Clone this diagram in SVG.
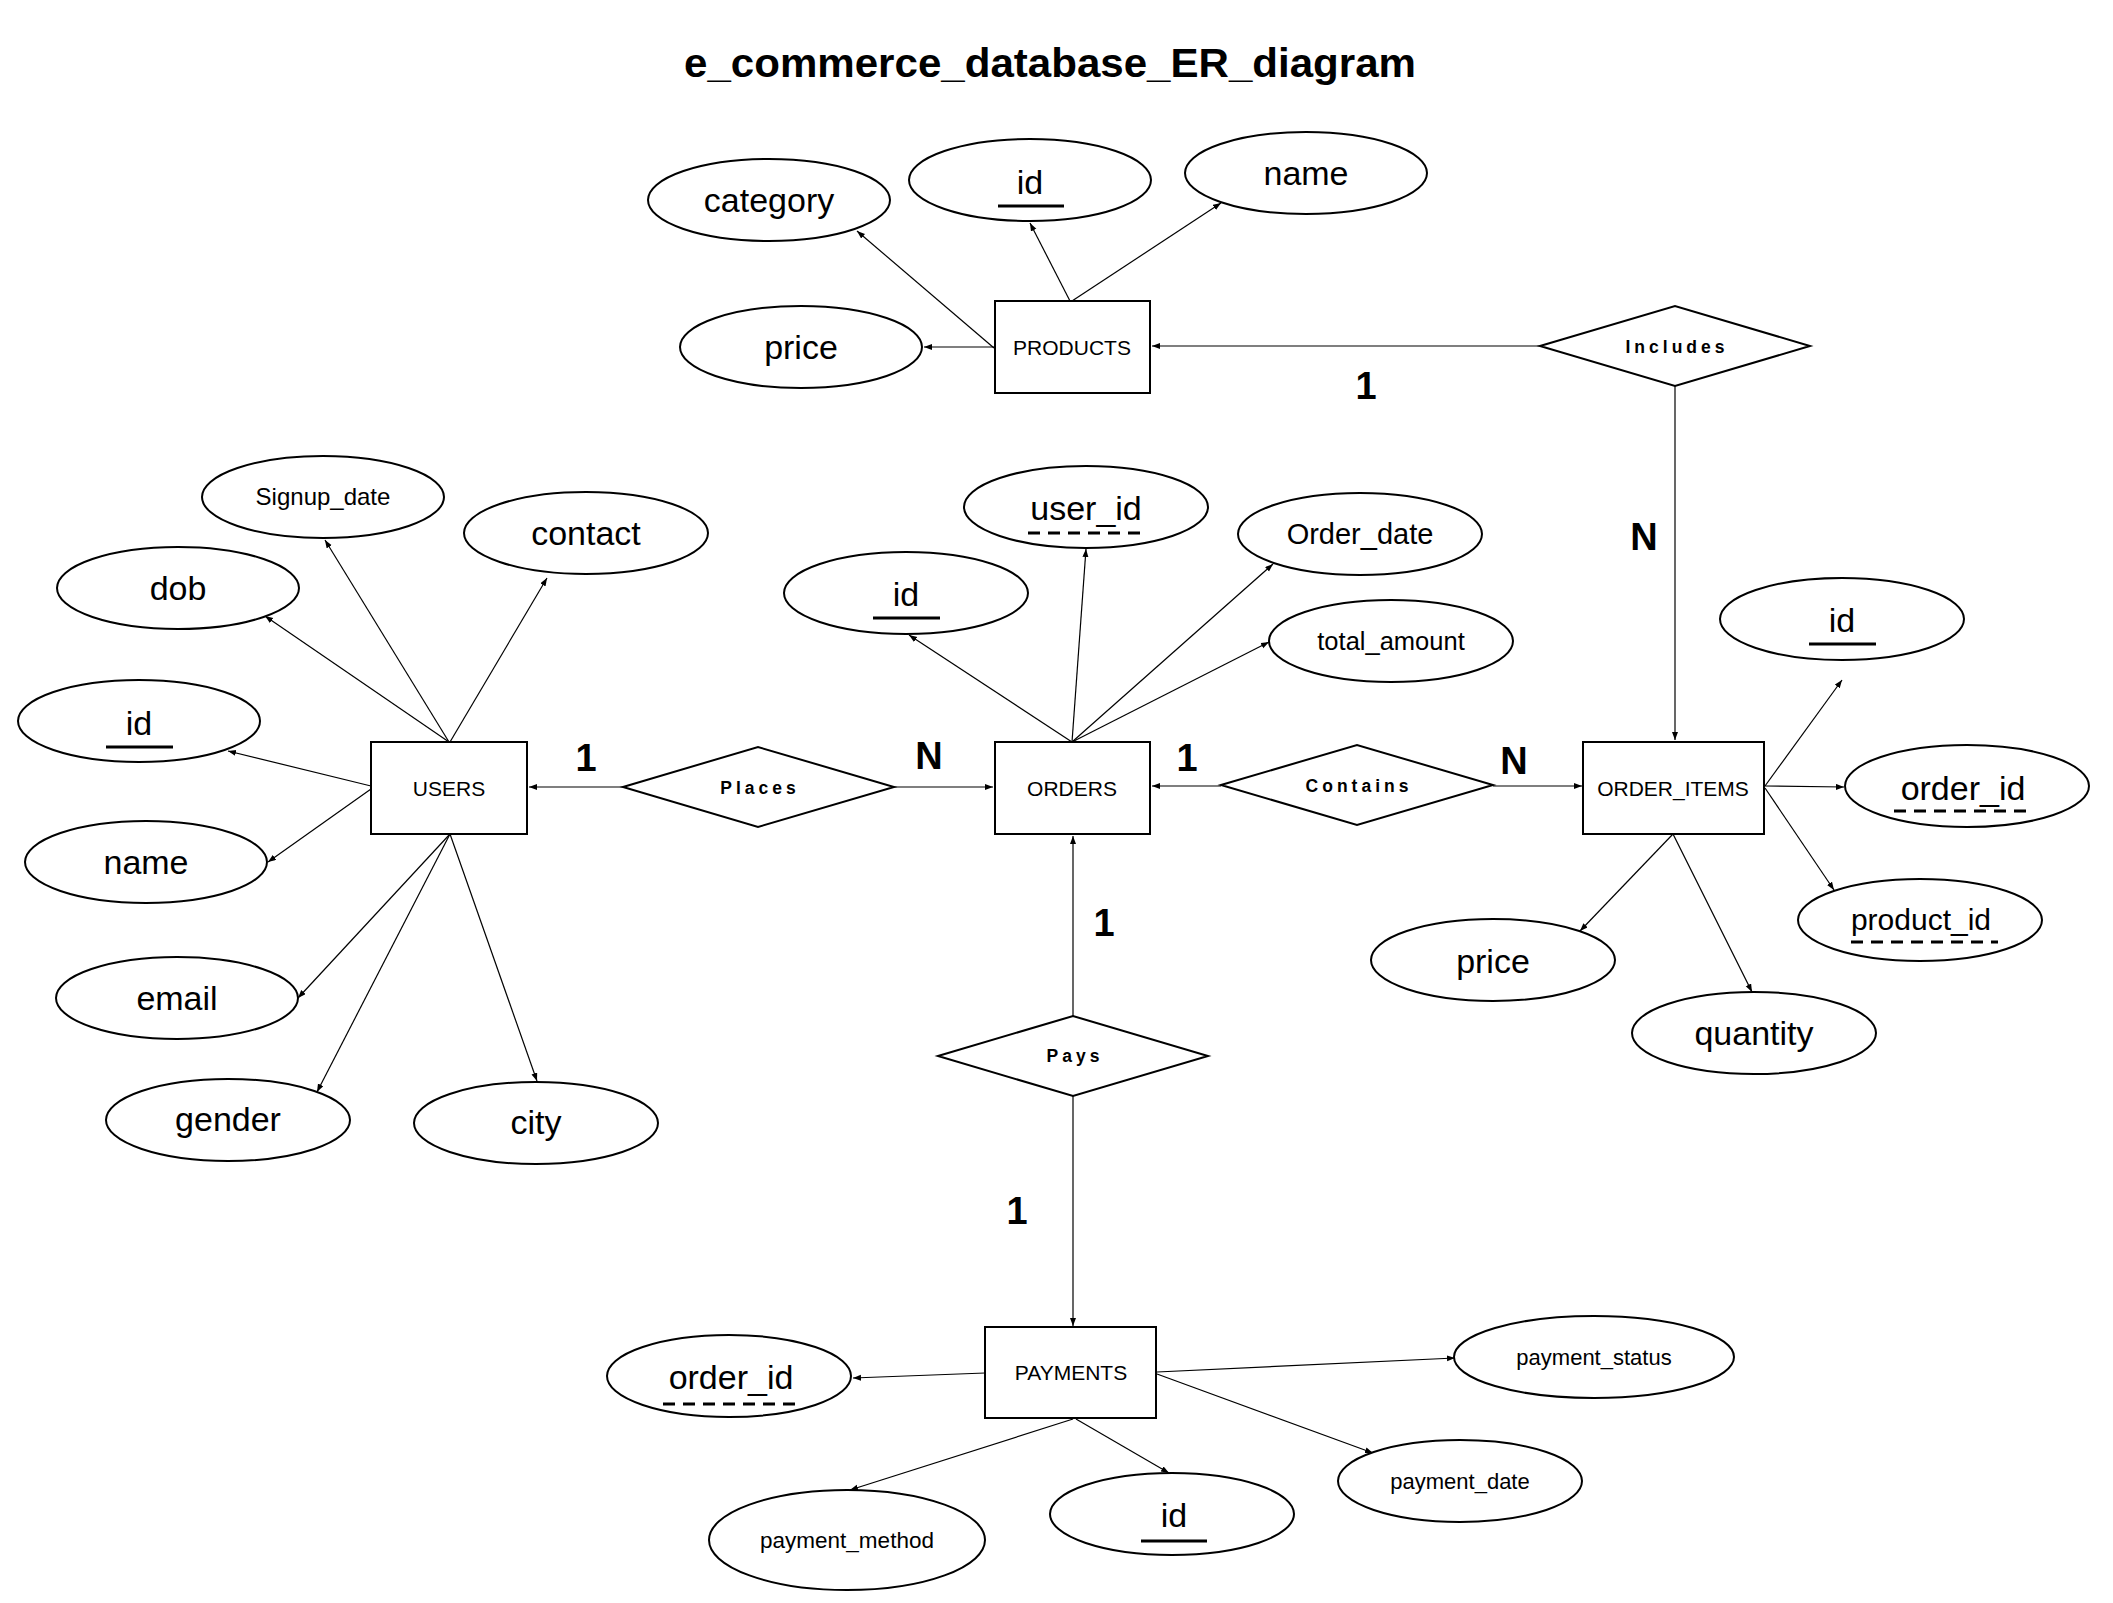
<svg xmlns="http://www.w3.org/2000/svg" width="2113" height="1603" viewBox="0 0 2113 1603">
<style>
.ent{fill:#fff;stroke:#000;stroke-width:2}
.att{fill:#fff;stroke:#000;stroke-width:2}
.rel{fill:#fff;stroke:#000;stroke-width:2}
.con line{stroke:#000;stroke-width:1.2;marker-end:url(#ah)}
text{font-family:"Liberation Sans",Arial,sans-serif;fill:#000;text-anchor:middle}
.big{font-size:34px}
.et{font-size:21px}
.rt{font-size:17.5px;font-weight:bold;letter-spacing:4px}
.card{font-size:38px;font-weight:bold}
.pk{stroke:#000;stroke-width:3}
.fk{stroke:#000;stroke-width:3;stroke-dasharray:12 8}
</style>
<defs>
<marker id="ah" markerUnits="userSpaceOnUse" markerWidth="9" markerHeight="7" refX="8" refY="3" orient="auto">
<path d="M0,0 L8,3 L0,6 z" fill="#000"/>
</marker>
</defs>
<rect width="2113" height="1603" fill="#fff"/>
<text x="1050" y="77" font-size="40" font-weight="bold" textLength="732" lengthAdjust="spacingAndGlyphs">e_commerce_database_ER_diagram</text>

<g class="con">
<line x1="994" y1="348" x2="857" y2="231"/>
<line x1="994" y1="347" x2="924" y2="347"/>
<line x1="1070" y1="301" x2="1030" y2="223"/>
<line x1="1072" y1="301" x2="1221" y2="203"/>
<line x1="1540" y1="346" x2="1152" y2="346"/>
<line x1="1675" y1="386" x2="1675" y2="740"/>
<line x1="449" y1="742" x2="325" y2="540"/>
<line x1="450" y1="742" x2="547" y2="578"/>
<line x1="449" y1="742" x2="265" y2="616"/>
<line x1="371" y1="786" x2="228" y2="751"/>
<line x1="371" y1="789" x2="268" y2="862"/>
<line x1="450" y1="834" x2="298" y2="998"/>
<line x1="450" y1="834" x2="317" y2="1092"/>
<line x1="450" y1="834" x2="537" y2="1081"/>
<line x1="623" y1="787" x2="529" y2="787"/>
<line x1="894" y1="787" x2="993" y2="787"/>
<line x1="1072" y1="742" x2="909" y2="635"/>
<line x1="1072" y1="742" x2="1086" y2="549"/>
<line x1="1072" y1="742" x2="1273" y2="564"/>
<line x1="1072" y1="742" x2="1269" y2="642"/>
<line x1="1221" y1="786" x2="1152" y2="786"/>
<line x1="1493" y1="786" x2="1582" y2="786"/>
<line x1="1765" y1="786" x2="1842" y2="680"/>
<line x1="1765" y1="786" x2="1844" y2="787"/>
<line x1="1765" y1="788" x2="1834" y2="890"/>
<line x1="1673" y1="834" x2="1580" y2="931"/>
<line x1="1673" y1="834" x2="1752" y2="992"/>
<line x1="1073" y1="1016" x2="1073" y2="836"/>
<line x1="1073" y1="1096" x2="1073" y2="1326"/>
<line x1="985" y1="1373" x2="853" y2="1378"/>
<line x1="1157" y1="1372" x2="1455" y2="1358"/>
<line x1="1157" y1="1374" x2="1373" y2="1453"/>
<line x1="1076" y1="1419" x2="1169" y2="1473"/>
<line x1="1073" y1="1419" x2="850" y2="1490"/>
</g>

<g id="cardinalities">
<text class="card" x="1366" y="399">1</text>
<text class="card" x="1644" y="550">N</text>
<text class="card" x="586" y="771">1</text>
<text class="card" x="929" y="769">N</text>
<text class="card" x="1187" y="771">1</text>
<text class="card" x="1514" y="774">N</text>
<text class="card" x="1104" y="936">1</text>
<text class="card" x="1017" y="1224">1</text>
</g>

<g id="PRODUCTS"><rect class="ent" x="995" y="301" width="155" height="92"/><text class="et" x="1072" y="355">PRODUCTS</text></g>
<g id="USERS"><rect class="ent" x="371" y="742" width="156" height="92"/><text class="et" x="449" y="796">USERS</text></g>
<g id="ORDERS"><rect class="ent" x="995" y="742" width="155" height="92"/><text class="et" x="1072" y="796">ORDERS</text></g>
<g id="ORDER_ITEMS"><rect class="ent" x="1583" y="742" width="181" height="92"/><text class="et" x="1673" y="796">ORDER_ITEMS</text></g>
<g id="PAYMENTS"><rect class="ent" x="985" y="1327" width="171" height="91"/><text class="et" x="1071" y="1380">PAYMENTS</text></g>

<g id="Includes"><polygon class="rel" points="1540,346 1675,306 1810,346 1675,386"/><text class="rt" x="1677" y="353">Includes</text></g>
<g id="Places"><polygon class="rel" points="623,787 758,747 894,787 758,827"/><text class="rt" x="760" y="794">Places</text></g>
<g id="Contains"><polygon class="rel" points="1221,785 1357,745 1493,785 1357,825"/><text class="rt" x="1359" y="792">Contains</text></g>
<g id="Pays"><polygon class="rel" points="938,1056 1073,1016 1208,1056 1073,1096"/><text class="rt" x="1075" y="1062">Pays</text></g>

<g id="products_category"><ellipse class="att" cx="769" cy="200" rx="121" ry="41"/><text class="big" x="769" y="212">category</text></g>
<g id="products_id"><ellipse class="att" cx="1030" cy="180" rx="121" ry="41"/><text class="big" x="1030" y="194">id</text><line class="pk" x1="998" y1="206" x2="1064" y2="206"/></g>
<g id="products_name"><ellipse class="att" cx="1306" cy="173" rx="121" ry="41"/><text class="big" x="1306" y="185">name</text></g>
<g id="products_price"><ellipse class="att" cx="801" cy="347" rx="121" ry="41"/><text class="big" x="801" y="359">price</text></g>

<g id="users_signup_date"><ellipse class="att" cx="323" cy="497" rx="121" ry="41"/><text x="323" y="505" font-size="24">Signup_date</text></g>
<g id="users_contact"><ellipse class="att" cx="586" cy="533" rx="122" ry="41"/><text class="big" x="586" y="545">contact</text></g>
<g id="users_dob"><ellipse class="att" cx="178" cy="588" rx="121" ry="41"/><text class="big" x="178" y="600">dob</text></g>
<g id="users_id"><ellipse class="att" cx="139" cy="721" rx="121" ry="41"/><text class="big" x="139" y="735">id</text><line class="pk" x1="106" y1="747" x2="173" y2="747"/></g>
<g id="users_name"><ellipse class="att" cx="146" cy="862" rx="121" ry="41"/><text class="big" x="146" y="874">name</text></g>
<g id="users_email"><ellipse class="att" cx="177" cy="998" rx="121" ry="41"/><text class="big" x="177" y="1010">email</text></g>
<g id="users_gender"><ellipse class="att" cx="228" cy="1120" rx="122" ry="41"/><text class="big" x="228" y="1131">gender</text></g>
<g id="users_city"><ellipse class="att" cx="536" cy="1123" rx="122" ry="41"/><text class="big" x="536" y="1134">city</text></g>

<g id="orders_user_id"><ellipse class="att" cx="1086" cy="507" rx="122" ry="41"/><text class="big" x="1086" y="520">user_id</text><line class="fk" x1="1028" y1="533" x2="1146" y2="533"/></g>
<g id="orders_id"><ellipse class="att" cx="906" cy="593" rx="122" ry="41"/><text class="big" x="906" y="606">id</text><line class="pk" x1="873" y1="618" x2="940" y2="618"/></g>
<g id="orders_order_date"><ellipse class="att" cx="1360" cy="534" rx="122" ry="41"/><text x="1360" y="544" font-size="29">Order_date</text></g>
<g id="orders_total_amount"><ellipse class="att" cx="1391" cy="641" rx="122" ry="41"/><text x="1391" y="650" font-size="25.5">total_amount</text></g>

<g id="order_items_id"><ellipse class="att" cx="1842" cy="619" rx="122" ry="41"/><text class="big" x="1842" y="632">id</text><line class="pk" x1="1809" y1="644" x2="1876" y2="644"/></g>
<g id="order_items_order_id"><ellipse class="att" cx="1967" cy="786" rx="122" ry="41"/><text class="big" x="1963" y="800">order_id</text><line class="fk" x1="1894" y1="811" x2="2031" y2="811"/></g>
<g id="order_items_product_id"><ellipse class="att" cx="1920" cy="920" rx="122" ry="41"/><text x="1921" y="930" font-size="30">product_id</text><line class="fk" x1="1851" y1="942" x2="1998" y2="942"/></g>
<g id="order_items_price"><ellipse class="att" cx="1493" cy="960" rx="122" ry="41"/><text class="big" x="1493" y="973">price</text></g>
<g id="order_items_quantity"><ellipse class="att" cx="1754" cy="1033" rx="122" ry="41"/><text class="big" x="1754" y="1045">quantity</text></g>

<g id="payments_order_id"><ellipse class="att" cx="729" cy="1376" rx="122" ry="41"/><text class="big" x="731" y="1389">order_id</text><line class="fk" x1="663" y1="1404" x2="801" y2="1404"/></g>
<g id="payments_payment_method"><ellipse class="att" cx="847" cy="1540" rx="138" ry="50"/><text x="847" y="1548" font-size="22.5">payment_method</text></g>
<g id="payments_id"><ellipse class="att" cx="1172" cy="1514" rx="122" ry="41"/><text class="big" x="1174" y="1527">id</text><line class="pk" x1="1141" y1="1541" x2="1207" y2="1541"/></g>
<g id="payments_payment_status"><ellipse class="att" cx="1594" cy="1357" rx="140" ry="41"/><text x="1594" y="1365" font-size="22">payment_status</text></g>
<g id="payments_payment_date"><ellipse class="att" cx="1460" cy="1481" rx="122" ry="41"/><text x="1460" y="1489" font-size="22">payment_date</text></g>
</svg>
